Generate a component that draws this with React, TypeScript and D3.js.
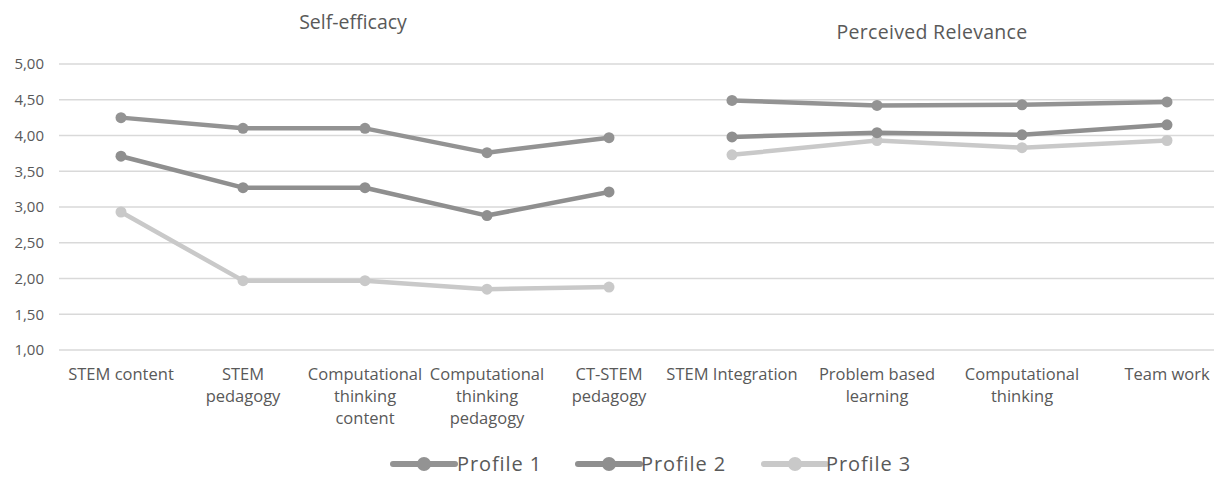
import React from "react";
import * as d3 from "d3";

const leftCategories = [
  ["STEM content"],
  ["STEM", "pedagogy"],
  ["Computational", "thinking", "content"],
  ["Computational", "thinking", "pedagogy"],
  ["CT-STEM", "pedagogy"],
];
const rightCategories = [
  ["STEM Integration"],
  ["Problem based", "learning"],
  ["Computational", "thinking"],
  ["Team work"],
];
const seriesNames = ["Profile 1", "Profile 2", "Profile 3"];
const leftP1 = [4.25, 4.1, 4.1, 3.76, 3.97];
const leftP2 = [3.71, 3.27, 3.27, 2.88, 3.21];
const leftP3 = [2.93, 1.97, 1.97, 1.85, 1.88];
const rightP1 = [4.49, 4.42, 4.43, 4.47];
const rightP2 = [3.98, 4.04, 4.01, 4.15];
const rightP3 = [3.73, 3.93, 3.83, 3.93];
const yTicks = [1, 1.5, 2, 2.5, 3, 3.5, 4, 4.5, 5];
const titles = ["Self-efficacy", "Perceived Relevance"];

const colors = ["#939393", "#8f8f8f", "#c9c9c9"];
const FONT = "'Open Sans', 'Noto Sans', sans-serif";
const TEXT = "#595959";

export default function App() {
  const W = 1214, H = 477;
  const y = d3.scaleLinear().domain([1, 5]).range([350, 64]);
  const xl = d3.scalePoint<number>().domain(d3.range(5)).range([60, 670]).padding(0.5);
  const xr = d3.scalePoint<number>().domain(d3.range(4)).range([659.5, 1239.5]).padding(0.5);
  const line = (x: any) => d3.line<number>().x((_, i) => x(i)).y((d) => y(d));
  const leftSeries = [leftP1, leftP2, leftP3];
  const rightSeries = [rightP1, rightP2, rightP3];
  const fmt = (v: number) => v.toFixed(2).replace(".", ",");

  const legendItems = [
    { x0: 393, tx: 457 },
    { x0: 578, tx: 641 },
    { x0: 764, tx: 826 },
  ];

  return (
    <svg width={W} height={H} style={{ position: "absolute", left: 0, top: 0, background: "#fff" }} fontFamily={FONT}>
      <rect width={W} height={H} fill="#fff" />
      {yTicks.map((t) => (
        <g key={t}>
          <line x1={59} x2={658} y1={y(t)} y2={y(t)} stroke="#d9d9d9" strokeWidth={1.3} />
          <line x1={658} x2={1214} y1={y(t)} y2={y(t)} stroke="#d9d9d9" strokeWidth={1.3} />
          <text x={44} y={y(t)} dy="0.35em" textAnchor="end" fontSize={15} fill={TEXT}>{fmt(t)}</text>
        </g>
      ))}
      <text x={353} y={29} textAnchor="middle" fontSize={19.5} fill={TEXT}>{titles[0]}</text>
      <text x={932} y={39} textAnchor="middle" fontSize={19.5} fill={TEXT} letterSpacing={0.3}>{titles[1]}</text>

      {leftCategories.map((lines, i) => (
        <text key={"l" + i} x={xl(i)} y={380} textAnchor="middle" fontSize={16.5} fill={TEXT}>
          {lines.map((s, j) => (
            <tspan key={j} x={xl(i)} dy={j === 0 ? 0 : 22}>{s}</tspan>
          ))}
        </text>
      ))}
      {rightCategories.map((lines, i) => (
        <text key={"r" + i} x={xr(i)} y={380} textAnchor="middle" fontSize={16.5} fill={TEXT}>
          {lines.map((s, j) => (
            <tspan key={j} x={xr(i)} dy={j === 0 ? 0 : 22}>{s}</tspan>
          ))}
        </text>
      ))}

      {[2, 1, 0].map((k) => (
        <g key={"s" + k}>
          <path d={line(xl)(leftSeries[k]) || ""} fill="none" stroke={colors[k]} strokeWidth={4.5} strokeLinejoin="round" />
          <path d={line(xr)(rightSeries[k]) || ""} fill="none" stroke={colors[k]} strokeWidth={4.5} strokeLinejoin="round" />
          {leftSeries[k].map((v, i) => (
            <circle key={"lc" + i} cx={xl(i)} cy={y(v)} r={5.5} fill={colors[k]} />
          ))}
          {rightSeries[k].map((v, i) => (
            <circle key={"rc" + i} cx={xr(i)} cy={y(v)} r={5.5} fill={colors[k]} />
          ))}
        </g>
      ))}

      {legendItems.map((it, k) => (
        <g key={"lg" + k}>
          <line x1={it.x0} x2={it.x0 + 62} y1={464} y2={464} stroke={colors[k]} strokeWidth={6} strokeLinecap="round" />
          <circle cx={it.x0 + 31} cy={464} r={7} fill={colors[k]} />
          <text x={it.tx} y={464} dy="0.36em" fontSize={20} letterSpacing={0.9} fill={TEXT}>{seriesNames[k]}</text>
        </g>
      ))}
    </svg>
  );
}
